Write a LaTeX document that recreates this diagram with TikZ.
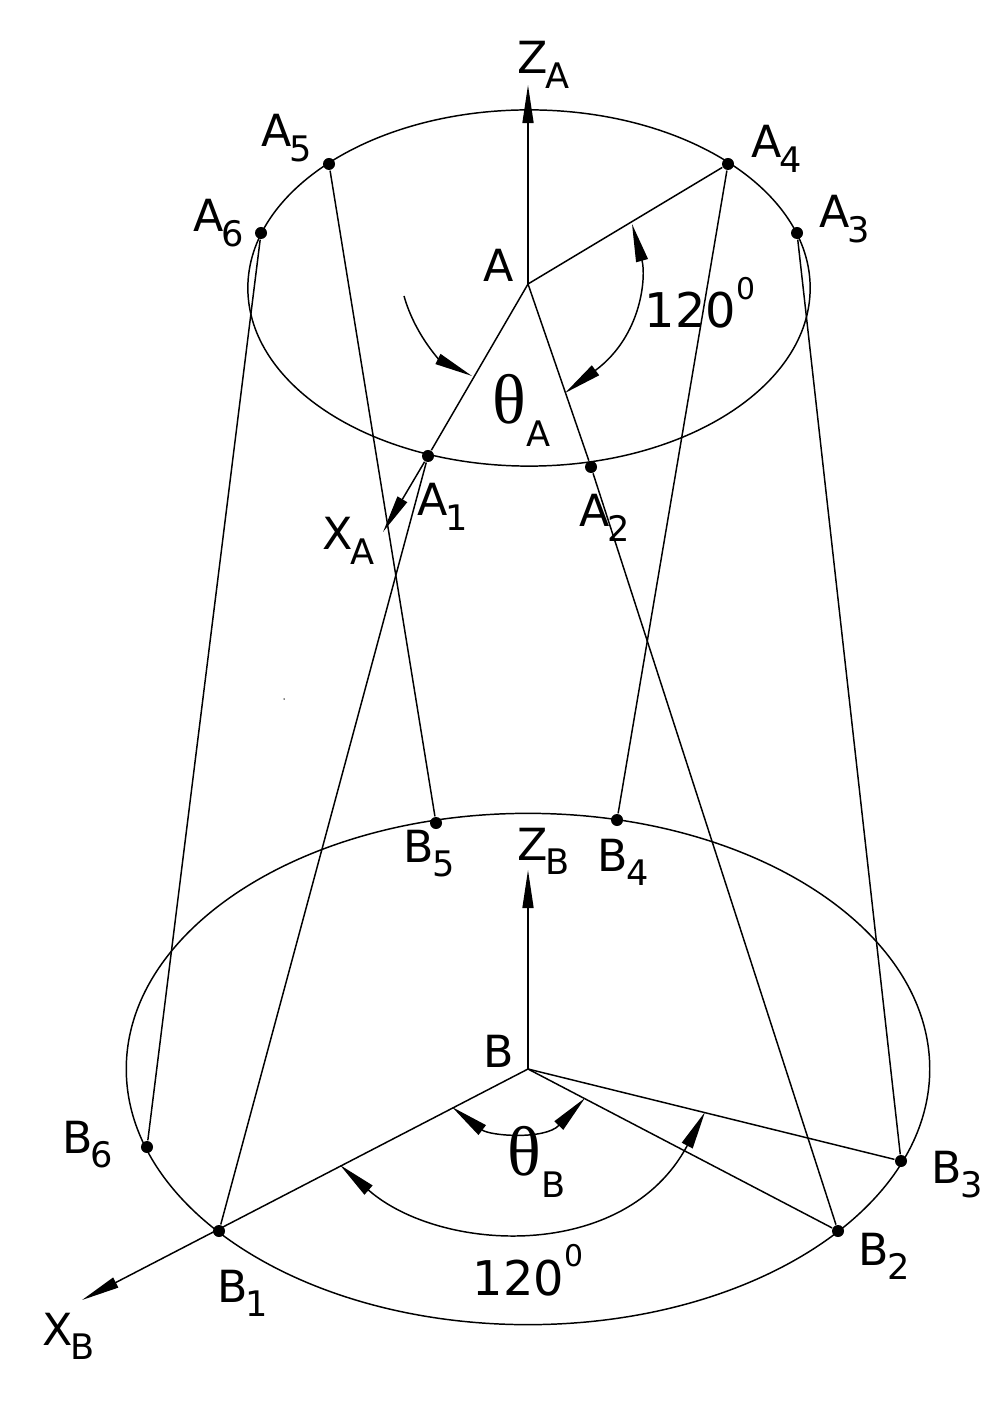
\documentclass[tikz,border=0pt]{standalone}
\usepackage{fontspec}
\setmainfont{DejaVu Sans}
\newfontfamily\thetafont{Liberation Serif}
\usetikzlibrary{shapes.geometric, arrows.meta}

\newcommand{\lowtxt}[1]{\hspace{-0.6pt}\raisebox{-4.2pt}{\fontsize{10}{12}\selectfont #1}}
\newcommand{\lowertxt}[1]{\raisebox{-6.5pt}{\fontsize{10}{12}\selectfont #1}}
\newcommand{\hightxt}[1]{\raisebox{8.2pt}{\fontsize{8.5}{10}\selectfont #1}}

\tikzset{
  thinline/.style={line width=0.42pt},
  ring/.style={ellipse,draw,thinline,inner sep=0pt},
  pnt/.style={circle,fill=black,inner sep=0pt,minimum size=0.12cm},
  lab/.style={anchor=base west,inner sep=0pt,font=\fontsize{12.6}{14}\selectfont},
  headend/.style={thinline,-{Triangle[length=0.38cm,width=0.11cm]}},
  headboth/.style={thinline,{Triangle[length=0.38cm,width=0.12cm]}-{Triangle[length=0.38cm,width=0.12cm]}},
  speck/.style={circle,fill=black,inner sep=0pt,minimum size=0.015cm}
}

\begin{document}
\begin{tikzpicture}[x=0.01cm,y=-0.01cm]
\useasboundingbox (0,0) rectangle (1006,1401);

\node[ring,minimum width=5.62cm,minimum height=3.56cm] (ringA) at (529,288) {};
\node[ring,minimum width=8.03cm,minimum height=5.11cm] (ringB) at (528,1069) {};

\coordinate (A) at (528,284);
\coordinate (B) at (528,1069);
\coordinate (ZA) at (528,85);
\coordinate (ZB) at (528,870);
\coordinate (XA) at (383,532);
\coordinate (XB) at (82,1300);

\foreach \nm/\px/\py in {A1/428/456,A2/591/467,A3/797/233,A4/728/164,A5/329/164,A6/261/233,
                         B1/219/1231,B2/838/1231,B3/901/1161,B4/617/820,B5/436/823,B6/147/1147}
   \node[pnt] (\nm) at (\px,\py) {};

\foreach \i in {1,...,6}
   \draw[thinline] (A\i) -- (B\i);

\draw[thinline] (A) -- (A1);
\draw[thinline] (A) -- (A2);
\draw[thinline] (A) -- (A4);
\draw[thinline] (B) -- (B2);
\draw[thinline] (B) -- (B3);

\draw[headend] (A) -- (ZA);
\draw[headend] (B) -- (ZB);
\draw[headend] (A1) -- (XA);
\draw[headend] (B) -- (XB);

\coordinate (tA) at (404,296);
\coordinate (tAe) at (472,376);
\draw[headend] (tA) .. controls (415,335) and (440,360) .. (tAe);

\coordinate (anA1) at (632,224);
\coordinate (anA2) at (565,393);
\draw[headboth] (anA1) .. controls (646,275) and (643,335) .. (anA2);

\coordinate (tB1) at (452,1107);
\coordinate (tB2) at (585,1098);
\draw[headboth] (tB1) .. controls (490,1136) and (545,1140) .. (tB2);

\coordinate (anB1) at (340,1165);
\coordinate (anB2) at (705,1112);
\draw[headboth] (anB1) .. controls (440,1253) and (625,1263) .. (anB2);

\foreach \nm/\s/\px/\py in {A/5/261/147,A/4/751/158,A/6/193/232,A/3/819/228,A/1/417/516,A/2/579/527,
                            B/5/403/862,B/4/597/871,B/6/62/1153,B/3/931/1183,B/2/858/1265,B/1/217/1302}
   \node[lab] (lab\nm\s) at (\px,\py) {\nm\lowtxt{\s}};

\node[lab] (labZA) at (517,74) {Z\lowtxt{A}};
\node[lab] (labZB) at (517,860) {Z\lowtxt{B}};
\node[lab] (labXA) at (322,550) {X\lowtxt{A}};
\node[lab] (labXB) at (42,1345) {X\lowtxt{B}};
\node[lab] (labA) at (483,282) {A};
\node[lab] (labB) at (483,1067) {B};
\node[lab,font=\fontsize{13.6}{15}\selectfont] (labangA) at (644,328) {120\hightxt{0}};
\node[lab,font=\fontsize{13.6}{15}\selectfont] (labangB) at (472,1295) {120\hightxt{0}};
\node[lab] (labtA) at (492,424) {{\thetafont\fontsize{20}{22}\selectfont θ}\lowertxt{A}};
\node[lab] (labtB) at (507,1175) {{\thetafont\fontsize{20}{22}\selectfont θ}\lowertxt{B}};

\node[speck] (dot) at (284,699) {};
\end{tikzpicture}
\end{document}
